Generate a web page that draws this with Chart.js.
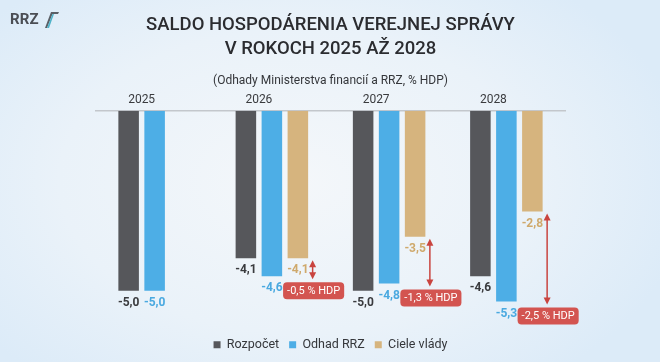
<!DOCTYPE html>
<html>
<head>
<meta charset="utf-8">
<script src="https://cdn.jsdelivr.net/npm/chart.js@4/dist/chart.umd.min.js"></script>
<style>
  html, body { margin: 0; padding: 0; }
  body {
    width: 660px; height: 362px; overflow: hidden; position: relative;
    background: radial-gradient(ellipse 60% 70% at 45% 50%, #f4f7fa 0%, #eaf2f9 60%, #dcebf8 100%);
    font-family: Roboto, "Liberation Sans", sans-serif;
  }
  #wrap { position: absolute; left: 0; top: 0; width: 660px; height: 362px; }
  #logo { position: absolute; left: 10px; top: 9px; height: 20px; display: flex; align-items: center; }
  #logo span { font-family: Roboto, sans-serif; font-weight: 700; font-size: 15px; color: #4b4e54; letter-spacing: 0.2px; }
</style>
</head>
<body>
<div id="wrap"><canvas id="c" width="660" height="362"></canvas></div>
<div id="logo"><span>RRZ</span>
  <svg width="20" height="20" viewBox="0 0 20 20" style="margin-left:3px">
    <polygon points="3,19 9,3 17,3 16,5 10.5,5 5,19" fill="#5a5f66"/>
    <polygon points="5,19 10.5,5 12,5 7,19" fill="#4fb3c9"/>
  </svg>
</div>
<script>
const categories = ['2025', '2026', '2027', '2028'];
const seriesNames = ['Rozpočet', 'Odhad RRZ', 'Ciele vlády'];
const rozpocet = [-5.0, -4.1, -5.0, -4.6];
const odhadRRZ = [-5.0, -4.6, -4.8, -5.3];
const cieleVlady = [null, -4.1, -3.5, -2.8];
const titleLines = ['SALDO HOSPODÁRENIA VEREJNEJ SPRÁVY', 'V ROKOCH 2025 AŽ 2028'];
const subtitleText = '(Odhady Ministerstva financií a RRZ, % HDP)';

const barColors = ['#56575b', '#4daee6', '#d6b47e'];
const labelColors = ['#3a3b3e', '#4aa9e0', '#cfa96c'];
const FONT = 'Roboto, "Liberation Sans", sans-serif';

function fmt(v) { return v.toFixed(1).replace('.', ','); }

const annotPlugin = {
  id: 'annot',
  afterDatasetsDraw(chart) {
    const ctx = chart.ctx;
    ctx.save();
    ctx.textAlign = 'center';
    ctx.textBaseline = 'middle';
    ctx.font = 'bold 12px ' + FONT;
    chart.data.datasets.forEach((ds, di) => {
      const meta = chart.getDatasetMeta(di);
      meta.data.forEach((bar, i) => {
        const v = ds.data[i];
        if (v == null) return;
        ctx.fillStyle = labelColors[di];
        ctx.fillText(fmt(v), bar.x, bar.y + 12);
      });
    });
    // gap arrows between government target and RRZ estimate
    const mBlue = chart.getDatasetMeta(1), mTan = chart.getDatasetMeta(2);
    const red = '#c9443f';
    cieleVlady.forEach((t, i) => {
      if (t == null) return;
      const tb = mTan.data[i], bb = mBlue.data[i];
      const x = tb.x + tb.width / 2 + 4.5;
      const y1 = tb.y + 2, y2 = bb.y + 3;
      ctx.strokeStyle = red; ctx.fillStyle = red; ctx.lineWidth = 1.5;
      ctx.beginPath(); ctx.moveTo(x, y1 + 5); ctx.lineTo(x, y2 - 5); ctx.stroke();
      ctx.beginPath(); ctx.moveTo(x, y1); ctx.lineTo(x - 3.5, y1 + 7); ctx.lineTo(x + 3.5, y1 + 7); ctx.closePath(); ctx.fill();
      ctx.beginPath(); ctx.moveTo(x, y2); ctx.lineTo(x - 3.5, y2 - 7); ctx.lineTo(x + 3.5, y2 - 7); ctx.closePath(); ctx.fill();
      const diff = odhadRRZ[i] - t;
      const txt = fmt(diff) + ' % HDP';
      ctx.font = '11px ' + FONT;
      const w = ctx.measureText(txt).width + 8, h = 17;
      const bx = x + 1 - w / 2, by = y2 + 3;
      ctx.fillStyle = '#d35450';
      ctx.beginPath();
      if (ctx.roundRect) ctx.roundRect(bx, by, w, h, 4); else ctx.rect(bx, by, w, h);
      ctx.fill();
      ctx.fillStyle = '#ffffff';
      ctx.fillText(txt, bx + w / 2, by + h / 2 + 0.5);
      ctx.font = 'bold 12px ' + FONT;
    });
    ctx.restore();
  }
};

new Chart(document.getElementById('c'), {
  type: 'bar',
  data: {
    labels: categories,
    datasets: [
      { label: seriesNames[0], data: rozpocet, backgroundColor: barColors[0] },
      { label: seriesNames[1], data: odhadRRZ, backgroundColor: barColors[1] },
      { label: seriesNames[2], data: cieleVlady, backgroundColor: barColors[2] }
    ]
  },
  options: {
    responsive: false,
    animation: false,
    devicePixelRatio: 1,
    datasets: { bar: { categoryPercentage: 0.665, barPercentage: 0.79 } },
    layout: { padding: { left: 96, right: 95, top: 0, bottom: 1 } },
    plugins: {
      title: {
        display: true, text: titleLines, color: '#2b2c30',
        font: { family: FONT, size: 18.5, weight: '500', lineHeight: 1.27 },
        padding: { top: 14, bottom: 8 }
      },
      subtitle: {
        display: true, text: subtitleText, color: '#34363a',
        font: { family: FONT, size: 12, lineHeight: 1.2 },
        padding: { top: 5, bottom: 0 }
      },
      legend: {
        position: 'bottom',
        labels: {
          color: '#35373b', font: { family: FONT, size: 12.5 },
          boxWidth: 7, boxHeight: 7, padding: 10
        }
      },
      tooltip: { enabled: false }
    },
    scales: {
      x: {
        position: 'top',
        grid: { display: false, drawTicks: false },
        border: { color: '#c3c7cc', width: 1.5 },
        ticks: { color: '#3a3b3e', font: { family: FONT, size: 12 }, padding: 4, labelOffset: -13 }
      },
      y: { display: false, min: -6.05, max: 0 }
    }
  },
  plugins: [annotPlugin]
});
</script>
</body>
</html>
